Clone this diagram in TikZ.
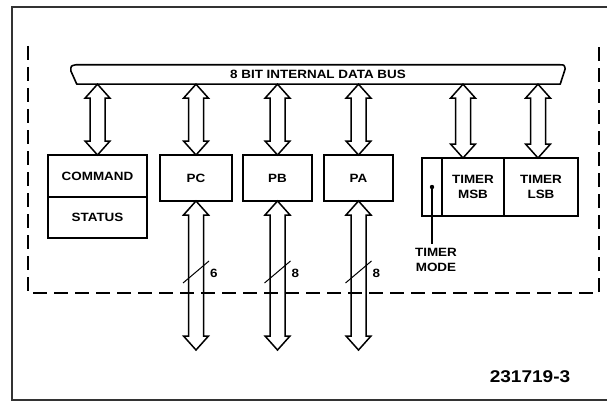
\documentclass[tikz,border=0pt]{standalone}
\usepackage{fontspec}
\newfontfamily\lblfont{Liberation Sans}[FakeStretch=1.12]
\usetikzlibrary{positioning,calc}

% hollow double-headed bus arrow between two vertical points (top tip, bottom tip)
\newcommand{\fatarrow}[2]{%
  \draw[fat] let \p1=(#1), \p2=(#2) in
    (\x1,\y1) -- (\x1+12.5pt,\y1-14pt) -- (\x1+7.5pt,\y1-14pt) --
    (\x1+7.5pt,\y2+14pt) -- (\x1+12.5pt,\y2+14pt) -- (\x1,\y2) --
    (\x1-12.5pt,\y2+14pt) -- (\x1-7.5pt,\y2+14pt) --
    (\x1-7.5pt,\y1-14pt) -- (\x1-12.5pt,\y1-14pt) -- cycle;}

\begin{document}
\begin{tikzpicture}[
  x=1pt, y=-1pt,
  lbl/.style={font=\lblfont\bfseries\fontsize{12}{13.5}\selectfont, inner sep=0pt},
  box/.style={lbl, draw, line width=1.9pt, outer sep=0pt, align=center},
  fat/.style={line width=1.5pt, line join=miter},
  frameline/.style={line width=1.1pt, black!80},
  dashline/.style={line width=1.6pt, dash pattern=on 14pt off 7pt},
  slashline/.style={line width=1pt},
]
  \useasboundingbox (0,0) rectangle (607,401);

  % outer frame and dashed chip outline
  \draw[frameline] (607,7) -- (12,7) -- (12,400) -- (607,400);
  \draw[dashline] (28,46) -- (28,293) -- (599,293) -- (599,45);

  % internal bus
  \node[lbl, minimum width=494pt, minimum height=19pt] (bus) at (318,74.5) {8 BIT INTERNAL DATA BUS};
  \draw[line width=1.6pt, line join=round]
    ($(bus.north west)+(5,0)$) -- ($(bus.north east)+(-5,0)$)
    .. controls ($(bus.north east)+(-1,0)$) .. ($(bus.north east)+(0,4)$)
    -- ($(bus.south east)+(-5,0)$) -- ($(bus.south west)+(6,0)$)
    -- ($(bus.north west)+(0,6)$)
    .. controls ($(bus.north west)+(0,1)$) .. cycle;

  % registers
  \node[box, minimum width=99pt, minimum height=42pt] (cmd) at (97.5,176) {COMMAND};
  \node[box, minimum width=99pt, minimum height=41pt, below=0pt of cmd] (stat) {STATUS};
  \node[box, minimum width=72pt, minimum height=46pt] (pc) at (196,178) {PC};
  \node[box, minimum width=69pt, minimum height=46pt] (pb) at (277.5,178) {PB};
  \node[box, minimum width=69pt, minimum height=46pt] (pa) at (358.5,178) {PA};
  \node[box, minimum width=20pt, minimum height=58pt] (tmode) at (432,187) {};
  \node[box, minimum width=62pt, minimum height=58pt, right=0pt of tmode] (tmsb) {TIMER\\[2pt]MSB};
  \node[box, minimum width=74pt, minimum height=58pt, right=0pt of tmsb] (tlsb) {TIMER\\[2pt]LSB};

  % bus connections
  \fatarrow{bus.south -| cmd.north}{cmd.north}
  \fatarrow{bus.south -| pc.north}{pc.north}
  \fatarrow{bus.south -| pb.north}{pb.north}
  \fatarrow{bus.south -| pa.north}{pa.north}
  \coordinate (msbin) at ([xshift=-10pt]tmsb.north);
  \fatarrow{bus.south -| msbin}{msbin}
  \coordinate (lsbin) at ([xshift=-3pt]tlsb.north);
  \fatarrow{bus.south -| lsbin}{lsbin}

  % port lines with widths
  \foreach \port/\w in {pc/6,pb/8,pa/8} {
    \coordinate (\port end) at ($(\port.south)+(0,149)$);
    \coordinate (\port tick) at ($(\port.south)+(0,71)$);
    \fatarrow{\port.south}{\port end}
    \draw[slashline] ($(\port tick)+(-13,11)$) -- ($(\port tick)+(13,-11)$);
    \node[lbl, anchor=west] at ($(\port tick)+(14,1)$) {\w};
  }

  % timer mode bit
  \node[lbl, align=center] (tmlbl) at (436,260) {TIMER\\[2pt]MODE};
  \fill (tmode.center) circle (2.2pt);
  \draw[line width=1.2pt] (tmode.center) -- ($(tmlbl.north)+(-4,-4)$);

  \node[lbl, font=\lblfont\bfseries\fontsize{17}{19}\selectfont] (fig) at (530,377) {231719-3};
\end{tikzpicture}
\end{document}
